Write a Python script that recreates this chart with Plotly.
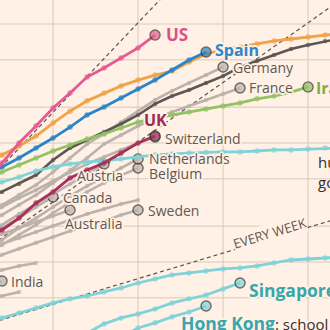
import math
import plotly.graph_objects as go

BG = "#fff1e5"
GRID = "#d9c9bc"
INK = "#33302e"
GREY_TEXT = "#5f5853"
GREY_LINE = "#bbb2ab"
DARK_LINE = "#5d5652"
CYAN = "#7fd3d8"
TEAL_TEXT = "#38a6ac"
FONT = "Open Sans"

# Cumulative confirmed cases, one value per day; each series starts on its *_START day
US_START = 11
US = [4600, 6800, 10000, 13900, 19700, 26300, 35800, 42700, 51800, 62900, 80800]
ITALY_START = 11
ITALY = [6540, 7940, 9430, 11450, 14700, 18500, 22600, 26300, 30200, 33800, 37200,
         40200, 47900, 56000, 60500, 64100, 68000, 72000, 74800, 77700, 80800, 83500]
SPAIN_START = 11
SPAIN = [5380, 6290, 7490, 9080, 11000, 13600, 17200, 20100, 23900, 28400, 33800,
         41000, 49800, 58200]
DARK_START = 11
DARK = [3320, 3880, 4530, 5380, 7200, 9080, 10600, 12370, 14450, 17200, 21300,
        24800, 27900, 31900, 36500, 43500, 48900, 54900, 61700, 66600, 72000, 76300]
GERMANY_START = 11
GERMANY = [2480, 3010, 3660, 4440, 5700, 7490, 9810, 11900, 15000, 18500, 23000,
           27400, 31900, 37200, 43500]
FRANCE_START = 11
FRANCE = [2050, 2480, 3010, 3660, 4620, 5930, 7490, 9810, 11680, 13900, 16200,
          18200, 20500, 23000, 25800, 29000]
IRAN_START = 11
IRAN = [5080, 5700, 6540, 7490, 8570, 9620, 10800, 11900, 13370, 15000, 16200,
        17200, 18200, 19300, 20500, 21700, 23500, 24800, 26800, 29600]
UK_START = 11
UK = [1531, 1858, 2340, 3130, 3880, 5080, 5930, 6800, 8250, 10000, 11450]
SWITZERLAND_START = 11
SWITZERLAND = [2480, 2900, 3450, 4030, 4800, 5700, 6670, 7630, 8740, 10000, 11230]
NETHERLANDS_START = 11
NETHERLANDS = [1262, 1531, 1930, 2340, 2900, 3590, 4350, 5180, 6170, 7340]
BELGIUM_START = 11
BELGIUM = [1150, 1390, 1690, 2050, 2580, 3190, 3880, 4620, 5380, 6170]
AUSTRIA_START = 11
AUSTRIA = [1690, 2050, 2530, 3070, 3730, 4530, 5490, 6670]
CANADA_START = 11
CANADA = [1590, 1930, 2340, 2900, 3520]
AUSTRALIA_START = 11
AUSTRALIA = [1531, 1720, 1930, 2170, 2430, 2735]
SWEDEN_START = 11
SWEDEN = [1000, 1150, 1290, 1450, 1620, 1820, 2010, 2210, 2480, 2735]
BRAZIL_START = 9
BRAZIL = [1531, 2010, 2580]
IRELAND_START = 9
IRELAND = [944, 1214, 1531]
INDIA_START = 10
INDIA = [480, 582, 693]
OTHER_A_START = 11
OTHER_A = [1262, 1420, 1590, 1790, 2010, 2254, 2530, 2790, 3070, 3320]
OTHER_B_START = 11
OTHER_B = [778, 857, 926, 982]
OTHER_C_START = 11
OTHER_C = [480, 518, 560]
SOUTH_KOREA_START = 11
SOUTH_KOREA = [4190, 4700, 5180, 5820, 6290, 6670, 6930, 7060, 7340, 7630, 7940,
               8090, 8250, 8330, 8410, 8410, 8570, 8740, 8740, 8910, 9080, 9080]
JAPAN_START = 11
JAPAN = [314, 339, 373, 411, 453, 490, 518, 560, 605, 666, 720, 778, 809, 841, 874,
         891, 926, 982, 1040, 1060, 1080, 1100]
SINGAPORE_START = 16
SINGAPORE = [221, 253, 302, 339, 366, 403, 453, 490, 528, 594, 666]
HONG_KONG_START = 18
HONG_KONG = [200, 234, 279, 308, 346, 380, 427]

# Reference lines: cases doubling every N days from 100 cases on day 0
DOUBLING_DAYS = [2, 3, 7]
GUIDE_BASE = 100
GUIDE_END_DAY = 40

X_RANGE = [11.88, 31.29]
Y_RANGE = [2.4286, 5.2017]
X_GRID = [15, 20, 25, 30]
Y_GRID = [500, 1000, 2000, 5000, 10000, 20000, 50000, 100000]

fig = go.Figure()

# grid drawn as a single line trace underneath the data
y_lo, y_hi = 10 ** Y_RANGE[0], 10 ** Y_RANGE[1]
gx, gy = [], []
for d in X_GRID:
    gx += [d, d, None]
    gy += [y_lo, y_hi, None]
for v in Y_GRID:
    gx += [X_RANGE[0], X_RANGE[1], None]
    gy += [v, v, None]
fig.add_trace(go.Scatter(x=gx, y=gy, mode="lines", line=dict(color=GRID, width=1),
                         hoverinfo="skip", connectgaps=False))

for t in DOUBLING_DAYS:
    fig.add_trace(go.Scatter(
        x=[0, GUIDE_END_DAY], y=[GUIDE_BASE, GUIDE_BASE * 2 ** (GUIDE_END_DAY / t)],
        mode="lines", line=dict(color="#5a5350", width=1.2, dash="4px,3px"),
        hoverinfo="skip"))


def add_series(start, values, color, width=2.8, dot=5.5, end=0):
    n = len(values)
    days = list(range(start, start + n))
    sizes = [dot] * n
    outline = [0] * n
    if end:
        sizes[-1] = end
        outline[-1] = 1.4
    fig.add_trace(go.Scatter(
        x=days, y=values, mode="lines+markers",
        line=dict(color=color, width=width),
        marker=dict(size=sizes, color=color, line=dict(color=INK, width=outline)),
        hoverinfo="skip"))


for start, vals, end in [
    (BRAZIL_START, BRAZIL, 10), (IRELAND_START, IRELAND, 10),
    (OTHER_B_START, OTHER_B, 0), (OTHER_C_START, OTHER_C, 0),
    (INDIA_START, INDIA, 10), (SWEDEN_START, SWEDEN, 10),
    (OTHER_A_START, OTHER_A, 0), (AUSTRALIA_START, AUSTRALIA, 10),
    (CANADA_START, CANADA, 10), (BELGIUM_START, BELGIUM, 10),
    (NETHERLANDS_START, NETHERLANDS, 10), (AUSTRIA_START, AUSTRIA, 10),
    (SWITZERLAND_START, SWITZERLAND, 10), (FRANCE_START, FRANCE, 10),
    (GERMANY_START, GERMANY, 10),
]:
    add_series(start, vals, GREY_LINE, width=2.6, dot=4.5, end=end)

add_series(DARK_START, DARK, DARK_LINE, width=2.6, dot=4.5)
add_series(JAPAN_START, JAPAN, CYAN)
add_series(HONG_KONG_START, HONG_KONG, CYAN, end=10)
add_series(SINGAPORE_START, SINGAPORE, CYAN, end=10)
add_series(SOUTH_KOREA_START, SOUTH_KOREA, CYAN)
add_series(IRAN_START, IRAN, "#93c263", end=10)
add_series(UK_START, UK, "#a8305c", end=10)
add_series(ITALY_START, ITALY, "#f0a347")
add_series(SPAIN_START, SPAIN, "#2a85c8", end=10)
add_series(US_START, US, "#e55a92", end=10)

HALO = ", ".join(f"{dx}px {dy}px 0 {BG}" for dx, dy in
                 [(1, 0), (-1, 0), (0, 1), (0, -1), (1, 1), (-1, -1), (1, -1), (-1, 1),
                  (2, 0), (-2, 0), (0, 2), (0, -2)])


def label(text, start, values, dx, dy, color=GREY_TEXT, bold=False, size=14):
    day = start + len(values) - 1
    fig.add_annotation(
        x=day, y=math.log10(values[-1]), xref="x", yref="y", text=text,
        showarrow=False, xanchor="left", yanchor="middle", xshift=dx, yshift=dy,
        font=dict(family=FONT, size=size, color=color,
                  weight="bold" if bold else "normal", shadow=HALO))


label("US", US_START, US, 9, 1, "#dd4f87", True, 17)
label("Spain", SPAIN_START, SPAIN, 7, 2, "#2f86c6", True, 16)
label("Germany", GERMANY_START, GERMANY, 8, 0)
label("France", FRANCE_START, FRANCE, 7, 0)
label("Iran", IRAN_START, IRAN, 6, -1, "#7dad48", True, 16)
label("UK", UK_START, UK, -13, 16, "#9b2a55", True, 16)
label("Switzerland", SWITZERLAND_START, SWITZERLAND, 8, -1)
label("Netherlands", NETHERLANDS_START, NETHERLANDS, 9, 0)
label("Belgium", BELGIUM_START, BELGIUM, 9, -6)
label("Austria", AUSTRIA_START, AUSTRIA, -29, -12)
label("Canada", CANADA_START, CANADA, 8, -1)
label("Australia", AUSTRALIA_START, AUSTRALIA, -7, -13)
label("Sweden", SWEDEN_START, SWEDEN, 8, 0)
label("Brazil", BRAZIL_START, BRAZIL, 5, 0)
label("Ireland", IRELAND_START, IRELAND, 6, 0)
label("India", INDIA_START, INDIA, 7, -1)
label("<b>Singapore</b>: contact tracing", SINGAPORE_START, SINGAPORE, 7, -7,
      TEAL_TEXT, True, 17.5)
label(f"<b>Hong Kong</b><span style='color:{INK};font-weight:normal;font-size:15px'>"
      ": school closures</span>",
      HONG_KONG_START, HONG_KONG, -27, -17, TEAL_TEXT, False, 17.5)

# free-standing note beside the South Korea line
for text, ypos in [("huge testing", 1 - 162 / 330), ("good tracing", 1 - 182 / 330)]:
    fig.add_annotation(x=316 / 330, y=ypos, xref="paper", yref="paper", text=text,
                       showarrow=False, xanchor="left", yanchor="middle",
                       font=dict(family=FONT, size=15, color=INK))

# label sitting on the weekly doubling guide
week_day = 27.75
fig.add_annotation(
    x=week_day, y=math.log10(GUIDE_BASE * 2 ** (week_day / 7)), xref="x", yref="y",
    text="EVERY WEEK", showarrow=False, textangle=-16.8, yshift=6,
    bgcolor=BG, borderpad=0,
    font=dict(family=FONT, size=13, color=GREY_TEXT))

fig.update_layout(
    width=330, height=330, margin=dict(l=0, r=0, t=0, b=0),
    paper_bgcolor=BG, plot_bgcolor=BG, showlegend=False)
fig.update_xaxes(range=X_RANGE, showticklabels=False, ticks="",
                 showgrid=False, zeroline=False, showline=False)
fig.update_yaxes(type="log", range=Y_RANGE, showticklabels=False, ticks="",
                 showgrid=False, zeroline=False, showline=False)

fig.write_html("out.html")
